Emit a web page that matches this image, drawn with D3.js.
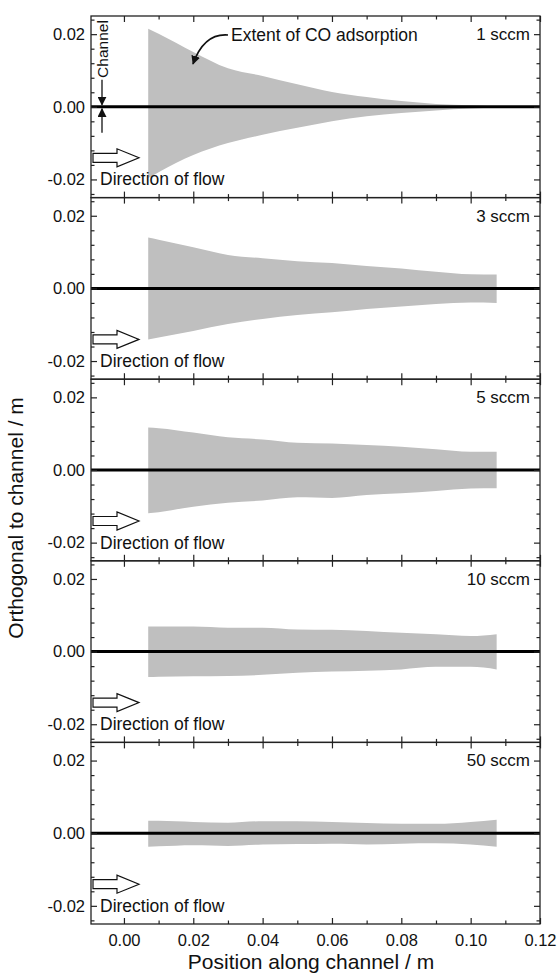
<!DOCTYPE html>
<html>
<head>
<meta charset="utf-8">
<script src="https://cdn.jsdelivr.net/npm/d3@7"></script>
<style>
  body { margin: 0; background: #fff; }
  text { font-family: "Liberation Sans", Arial, sans-serif; fill: #111; }
</style>
</head>
<body>
<div id="chart"></div>
<script>
// Data
var flowRates   = ["1 sccm", "3 sccm", "5 sccm", "10 sccm", "50 sccm"];
var positions   = [0.007, 0.01, 0.02, 0.03, 0.04, 0.05, 0.06, 0.07, 0.08, 0.09, 0.10, 0.1075];

var upper_1     = [0.0215, 0.0201, 0.0151, 0.0106, 0.0085, 0.0062, 0.0041, 0.0027, 0.0016, 0.0008, 0.0004, 0.0001];
var lower_1     = [-0.0196, -0.0180, -0.0133, -0.0100, -0.0077, -0.0058, -0.0040, -0.0026, -0.0017, -0.0010, -0.0005, -0.0002];
var upper_3     = [0.0140, 0.0134, 0.0113, 0.0092, 0.0083, 0.0075, 0.0070, 0.0062, 0.0055, 0.0046, 0.0039, 0.0038];
var lower_3     = [-0.0141, -0.0135, -0.0117, -0.0098, -0.0084, -0.0073, -0.0066, -0.0057, -0.0050, -0.0043, -0.0039, -0.0040];
var upper_5     = [0.0117, 0.0115, 0.0103, 0.0090, 0.0084, 0.0075, 0.0073, 0.0069, 0.0064, 0.0057, 0.0050, 0.0050];
var lower_5     = [-0.0119, -0.0116, -0.0101, -0.0090, -0.0084, -0.0075, -0.0077, -0.0069, -0.0064, -0.0058, -0.0051, -0.0050];
var upper_10    = [0.0069, 0.0069, 0.0069, 0.0066, 0.0066, 0.0061, 0.0060, 0.0057, 0.0052, 0.0048, 0.0043, 0.0048];
var lower_10    = [-0.0070, -0.0069, -0.0068, -0.0067, -0.0064, -0.0058, -0.0055, -0.0053, -0.0049, -0.0042, -0.0042, -0.0049];
var upper_50    = [0.0034, 0.0034, 0.0031, 0.0029, 0.0033, 0.0033, 0.0031, 0.0028, 0.0026, 0.0026, 0.0031, 0.0037];
var lower_50    = [-0.0037, -0.0036, -0.0033, -0.0035, -0.0031, -0.0030, -0.0029, -0.0031, -0.0029, -0.0028, -0.0031, -0.0037];

var uppers      = [upper_1, upper_3, upper_5, upper_10, upper_50];
var lowers      = [lower_1, lower_3, lower_5, lower_10, lower_50];

var xMajor      = [0, 0.02, 0.04, 0.06, 0.08, 0.10, 0.12];
var xMinor      = [0.01, 0.03, 0.05, 0.07, 0.09, 0.11];
var yMajor      = [-0.02, 0, 0.02];
var yMinor      = [-0.024, -0.016, -0.012, -0.008, -0.004, 0.004, 0.008, 0.012, 0.016, 0.024];

// Size
var chart_width  = 558;
var chart_height = 976;
var plotLeft = 91, plotRight = 540, plotTop = 16, panelH = 181.6;

var svg = d3.select("#chart")
    .append("svg")
    .attr("width", chart_width)
    .attr("height", chart_height);

var defs = svg.append("defs");
defs.append("marker")
    .attr("id", "head")
    .attr("viewBox", "0 0 10 10")
    .attr("refX", 9).attr("refY", 5)
    .attr("markerWidth", 9).attr("markerHeight", 9)
    .attr("markerUnits", "userSpaceOnUse")
    .attr("orient", "auto")
    .append("path")
    .attr("d", "M0,0 L10,5 L0,10 Z")
    .attr("fill", "#111");

var x = d3.scaleLinear().domain([-0.0095, 0.12]).range([plotLeft, plotRight]);
var y = d3.scaleLinear().domain([-0.025, 0.025]).range([panelH, 0]);

// plain hyphen for negatives, like the original
var fmt = function(d) { return d3.format(".2f")(d).replace("\u2212", "-"); };

flowRates.forEach(function(rate, i) {
    var g = svg.append("g").attr("transform", "translate(0," + (plotTop + i * panelH) + ")");
    var rows = positions.map(function(p, j) { return { x: p, hi: uppers[i][j], lo: lowers[i][j] }; });

    var area = d3.area()
        .x(function(d) { return x(d.x); })
        .y0(function(d) { return y(d.lo); })
        .y1(function(d) { return y(d.hi); })
        .curve(d3.curveMonotoneX);

    g.append("path")
        .datum(rows)
        .attr("d", area)
        .attr("fill", "#bfbfbf");

    // channel centre line
    g.append("line")
        .attr("x1", plotLeft).attr("x2", plotRight)
        .attr("y1", y(0)).attr("y2", y(0))
        .style("stroke", "#000")
        .style("stroke-width", 3);

    // frame
    g.append("rect")
        .attr("x", plotLeft).attr("y", 0)
        .attr("width", plotRight - plotLeft).attr("height", panelH)
        .attr("fill", "none")
        .style("stroke", "#222")
        .style("stroke-width", 1.3);

    // ticks, all pointing inward
    function ax(axis, tx, ty) {
        var a = g.append("g").attr("transform", "translate(" + tx + "," + ty + ")").call(axis);
        a.select(".domain").remove();
        a.selectAll("line").style("stroke", "#222").style("stroke-width", 1.2);
        a.selectAll("text").style("font-size", "16.5px").style("font-family", '"Liberation Sans", Arial, sans-serif').attr("fill", "#111");
        return a;
    }
    ax(d3.axisTop(x).tickValues(xMajor).tickSize(-6).tickFormat(""), 0, 0);
    ax(d3.axisTop(x).tickValues(xMinor).tickSize(-3.5).tickFormat(""), 0, 0);
    var bottom = d3.axisBottom(x).tickValues(xMajor).tickSize(-6).tickPadding(10);
    bottom.tickFormat(i === flowRates.length - 1 ? fmt : "");
    ax(bottom, 0, panelH);
    ax(d3.axisBottom(x).tickValues(xMinor).tickSize(-3.5).tickFormat(""), 0, panelH);

    ax(d3.axisLeft(y).tickValues(yMajor).tickSize(-6).tickPadding(6).tickFormat(fmt), plotLeft, 0);
    ax(d3.axisLeft(y).tickValues(yMinor).tickSize(-3.5).tickFormat(""), plotLeft, 0);
    ax(d3.axisRight(y).tickValues(yMajor).tickSize(-6).tickFormat(""), plotRight, 0);
    ax(d3.axisRight(y).tickValues(yMinor).tickSize(-3.5).tickFormat(""), plotRight, 0);

    // flow label
    g.append("text")
        .attr("x", 530).attr("y", y(0.02) + 5.8)
        .attr("text-anchor", "end")
        .style("font-size", "17px")
        .text(rate);

    // direction of flow arrow + text
    var cy = y(0);
    g.append("path")
        .attr("d", "M93," + (cy + 46.5) + " L117," + (cy + 46.5) + " L117," + (cy + 42) +
                   " L139," + (cy + 51) + " L117," + (cy + 60) + " L117," + (cy + 55.5) +
                   " L93," + (cy + 55.5) + " Z")
        .attr("fill", "#fff")
        .style("stroke", "#111")
        .style("stroke-width", 1.2);
    g.append("text")
        .attr("x", 100).attr("y", y(-0.02) + 6)
        .style("font-size", "17.5px")
        .text("Direction of flow");

    if (i === 0) {
        g.append("text")
            .attr("x", 231).attr("y", y(0.02) + 6.5)
            .style("font-size", "17.5px")
            .text("Extent of CO adsorption");
        g.append("path")
            .attr("d", "M228,19 Q204,17 193,48")
            .attr("fill", "none")
            .style("stroke", "#111")
            .style("stroke-width", 1.6)
            .attr("marker-end", "url(#head)");

        // Channel marker
        g.append("text")
            .attr("transform", "translate(107.5,33) rotate(-90)")
            .attr("text-anchor", "middle")
            .style("font-size", "15.5px")
            .text("Channel");
        g.append("line")
            .attr("x1", 102).attr("x2", 102).attr("y1", cy - 27).attr("y2", cy - 2)
            .style("stroke", "#111").style("stroke-width", 1.3)
            .attr("marker-end", "url(#head)");
        g.append("line")
            .attr("x1", 102).attr("x2", 102).attr("y1", cy + 26).attr("y2", cy + 2)
            .style("stroke", "#111").style("stroke-width", 1.3)
            .attr("marker-end", "url(#head)");
    }
});

// Axis titles
svg.append("text")
    .attr("x", 311).attr("y", 969)
    .attr("text-anchor", "middle")
    .style("font-size", "21px")
    .text("Position along channel / m");

svg.append("text")
    .attr("transform", "translate(23,518) rotate(-90)")
    .attr("text-anchor", "middle")
    .style("font-size", "21px")
    .text("Orthogonal to channel / m");
</script>
</body>
</html>
